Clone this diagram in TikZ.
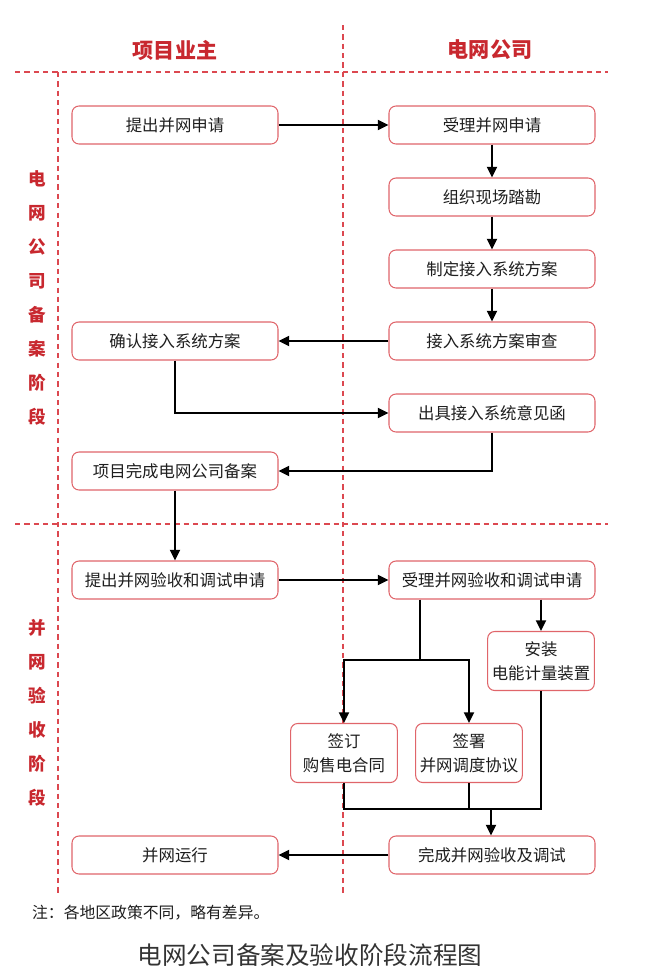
\documentclass[tikz,border=0pt]{standalone}
\usepackage{fontspec}
\setmainfont{Noto Sans CJK SC}
\usetikzlibrary{arrows.meta}

\definecolor{hongse}{HTML}{C8282F}
\definecolor{kuangse}{HTML}{E0656A}
\definecolor{xuxian}{HTML}{DC4850}
\definecolor{wenzi}{HTML}{1E1E1E}

\begin{document}
\begin{tikzpicture}[x=0.03cm, y=-0.03cm, >={Triangle[length=9pt,width=8.5pt]},
    kuang/.style={draw=kuangse, line width=0.9pt, rounded corners=6pt, fill=white, text=wenzi,
        minimum width=6.18cm, minimum height=1.14cm, font=\fontsize{14}{16}\selectfont},
    xiaokuang/.style={kuang, minimum width=3.2cm, minimum height=1.77cm, align=center,
        font=\fontsize{14}{20.5}\selectfont},
    fenge/.style={draw=xuxian, line width=1.2pt, dash pattern=on 4.5pt off 3.5pt},
    biaoti/.style={text=hongse, font=\fontsize{18}{20}\selectfont\bfseries},
    jieduan/.style={text=hongse, align=center, font=\fontsize{15}{29}\selectfont\bfseries},
    jiantou/.style={->, line width=1.7pt}]
    \useasboundingbox (0,0) rectangle (671,972);

    % 分隔虚线
    \draw[fenge] (343,25) -- (343,895);
    \draw[fenge] (15,72) -- (608,72);
    \draw[fenge] (58,72) -- (58,895);
    \draw[fenge] (15,524) -- (608,524);

    % 表头及阶段
    \node[biaoti] (yezhu) at (175,50) {项目业主};
    \node[biaoti] (gongsi) at (490,50) {电网公司};
    \node[jieduan] (beian) at (37,298) {电\\网\\公\\司\\备\\案\\阶\\段};
    \node[jieduan] (yanshou) at (37,713) {并\\网\\验\\收\\阶\\段};

    % 备案阶段
    \node[kuang] (tichu) at (175,125) {提出并网申请};
    \node[kuang] (shouli) at (492,125) {受理并网申请};
    \node[kuang] (kancha) at (492,197) {组织现场踏勘};
    \node[kuang] (zhiding) at (492,269) {制定接入系统方案};
    \node[kuang] (shencha) at (492,341) {接入系统方案审查};
    \node[kuang] (queren) at (175,341) {确认接入系统方案};
    \node[kuang] (hanjian) at (492,413) {出具接入系统意见函};
    \node[kuang] (wancheng) at (175,471) {项目完成电网公司备案};

    % 验收阶段
    \node[kuang] (shenqing) at (175,580) {提出并网验收和调试申请};
    \node[kuang] (slys) at (492,580) {受理并网验收和调试申请};
    \node[xiaokuang] (anzhuang) at (541,661) {安装\\电能计量装置};
    \node[xiaokuang] (qianding) at (344,753) {签订\\购售电合同};
    \node[xiaokuang] (qianshu) at (469,753) {签署\\并网调度协议};
    \node[kuang] (tiaoshi) at (492,855) {完成并网验收及调试};
    \node[kuang] (yunxing) at (175,855) {并网运行};

    % 连线
    \draw[jiantou] (tichu) -- (shouli);
    \draw[jiantou] (shouli) -- (kancha);
    \draw[jiantou] (kancha) -- (zhiding);
    \draw[jiantou] (zhiding) -- (shencha);
    \draw[jiantou] (shencha) -- (queren);
    \draw[jiantou] (queren.south) |- (hanjian.west);
    \draw[jiantou] (hanjian.south) |- (wancheng.east);
    \draw[jiantou] (wancheng.south) -- (shenqing.north);
    \draw[jiantou] (shenqing) -- (slys);
    \draw[jiantou] (anzhuang.north |- slys.south) -- (anzhuang.north);

    \coordinate (fen) at (420,660);
    \coordinate (hui) at (491,809);
    \draw[line width=1.7pt] (slys.south -| fen) -- (fen);
    \draw[jiantou] (fen) -| (qianding.north);
    \draw[jiantou] (fen) -| (qianshu.north);
    \draw[line width=1.7pt] (qianding.south) |- (hui);
    \draw[line width=1.7pt] (anzhuang.south) |- (hui);
    \draw[line width=1.7pt] (qianshu.south) -- (qianshu.south |- hui);
    \draw[jiantou] (hui) -- (tiaoshi.north -| hui);
    \draw[jiantou] (tiaoshi) -- (yunxing);

    % 注释及图名
    \node[anchor=west, text=wenzi, font=\fontsize{13.5}{16}\selectfont] (zhu) at (28,913) {注：各地区政策不同，略有差异。};
    \node[text=black!80, font=\fontsize{21}{24}\selectfont] (tuming) at (310,955) {电网公司备案及验收阶段流程图};
\end{tikzpicture}
\end{document}
